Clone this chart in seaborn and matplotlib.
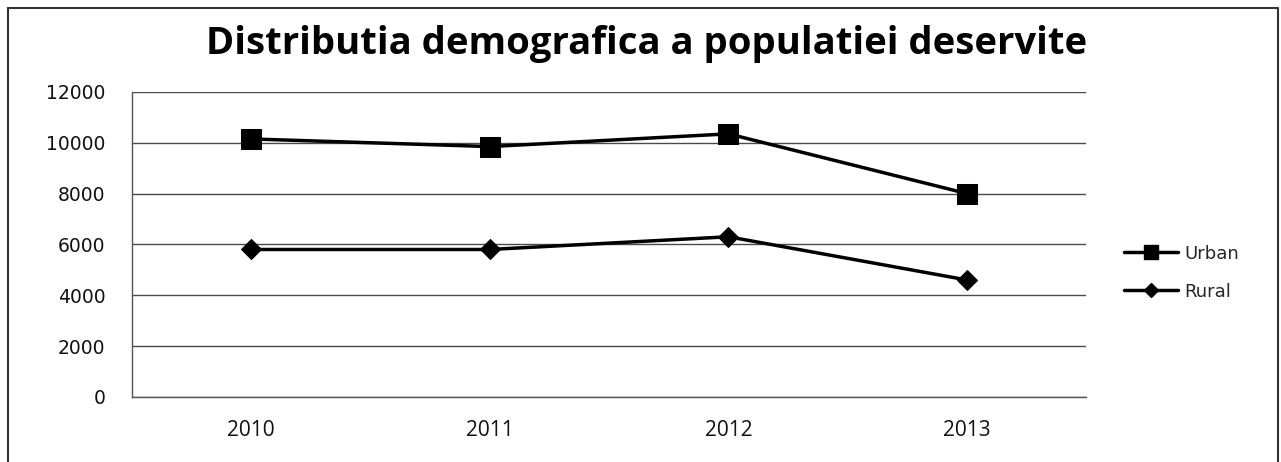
import matplotlib
matplotlib.use("Agg")
import matplotlib.pyplot as plt
import seaborn as sns
import pandas as pd
from matplotlib.lines import Line2D

years = ["2010", "2011", "2012", "2013"]
urban = [10150, 9850, 10350, 8000]
rural = [5800, 5800, 6300, 4600]
series_names = ["Urban", "Rural"]
yticks = [0, 2000, 4000, 6000, 8000, 10000, 12000]
title = "Distributia demografica a populatiei deservite"

df = pd.DataFrame({
    "year": years * 2,
    "value": urban + rural,
    "series": ["Urban"] * len(years) + ["Rural"] * len(years),
})

sns.set_theme(style="white")
plt.rcParams["font.family"] = ["DejaVu Sans"]

fig = plt.figure(figsize=(12.81, 4.62), dpi=100)
ax = fig.add_axes([0.103, 0.141, 0.745, 0.660])

sns.lineplot(data=df, x="year", y="value", hue="series", style="series",
             palette={"Urban": "black", "Rural": "black"},
             markers={"Urban": "s", "Rural": "D"}, dashes=False,
             linewidth=2.5, ax=ax, legend=False, sort=False)
for line in ax.lines:
    if line.get_marker() == "s":
        line.set_markersize(14)
    else:
        line.set_markersize(10)
    line.set_markeredgecolor("black")

ax.set_xlim(-0.5, 3.5)
ax.set_ylim(0, 12000)
ax.set_yticks(yticks)
ax.set_yticklabels([str(t) for t in yticks], fontsize=13.5, color="#111111")
ax.set_xticks(range(len(years)))
ax.set_xticklabels(years, fontsize=15, family="Open Sans", color="#111111")
ax.tick_params(axis="x", pad=17, length=0)
ax.tick_params(axis="y", pad=19, length=0)
ax.set_xlabel("")
ax.set_ylabel("")
ax.yaxis.grid(True, color="#4a4a4a", linewidth=1.0)
ax.set_axisbelow(True)
for s in ["top", "right"]:
    ax.spines[s].set_visible(False)
for s in ["left", "bottom"]:
    ax.spines[s].set_color("#555555")
    ax.spines[s].set_linewidth(1.0)

fig.text(0.505, 1 - 54 / 462, title, ha="center", va="baseline", fontsize=27.5,
         fontweight="bold", family="Open Sans", color="black")

handles = [
    Line2D([0], [0], color="black", lw=2.5, marker="s", markersize=10),
    Line2D([0], [0], color="black", lw=2.5, marker="D", markersize=7),
]
fig.legend(handles, series_names, loc="center left",
           bbox_to_anchor=(0.865, 0.41), frameon=False, fontsize=13,
           handlelength=3.0, handletextpad=0.3, labelspacing=1.1)

# outer frame (left, top, right)
frame = dict(color="#333333", lw=1.5, transform=fig.transFigure)
fig.add_artist(Line2D([0.0062, 0.0062], [0.0, 0.983], **frame))
fig.add_artist(Line2D([0.0062, 0.9977], [0.983, 0.983], **frame))
fig.add_artist(Line2D([0.9977, 0.9977], [0.0, 0.983], **frame))

fig.savefig("out.png", dpi=100, facecolor="white")
